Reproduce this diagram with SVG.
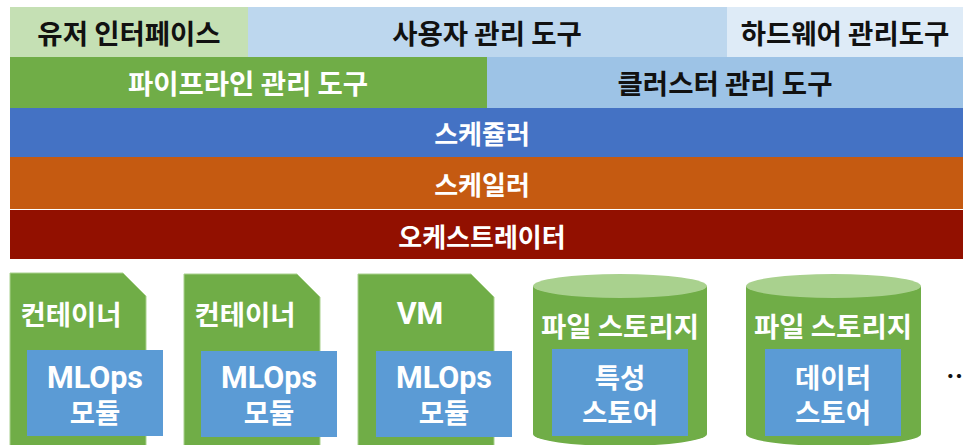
<svg xmlns="http://www.w3.org/2000/svg" width="963" height="445" viewBox="0 0 963 445">
<style>
text{font-family:"Noto Sans CJK KR","Noto Sans",sans-serif;font-weight:bold;text-anchor:middle;dominant-baseline:central;font-size:27.5px}
.band{font-size:26px}
.lat{font-family:Roboto,"Noto Sans CJK KR",sans-serif;font-size:30.5px}
.w{fill:#fff}
.k{fill:#111}
.inner{fill:#5B9BD5}
.box{fill:#70AD47;stroke:#A9D18E;stroke-width:1}
.cyl{fill:#70AD47}
.top{fill:#A9D18E}
</style>
<rect width="963" height="445" fill="#fff"/>
<g id="ui"><rect x="10" y="7" width="238" height="50" fill="#C5E0B4"/><text class="k" x="129" y="32">유저 인터페이스</text></g>
<g id="user-mgmt"><rect x="248" y="7" width="479" height="50" fill="#BDD7EE"/><text class="k" x="487" y="32">사용자 관리 도구</text></g>
<g id="hw-mgmt"><rect x="727" y="7" width="236" height="50" fill="#DEEBF7"/><text class="k" x="845" y="32">하드웨어 관리도구</text></g>
<g id="pipeline"><rect x="10" y="57" width="477" height="51" fill="#70AD47"/><text class="w" x="248" y="82">파이프라인 관리 도구</text></g>
<g id="cluster"><rect x="487" y="57" width="476" height="51" fill="#9DC3E6"/><text class="k" x="725" y="82">클러스터 관리 도구</text></g>
<g id="scheduler"><rect x="10" y="108" width="953" height="49" fill="#4472C4"/><text class="w band" x="482" y="132">스케쥴러</text></g>
<g id="scaler"><rect x="10" y="157" width="953" height="52" fill="#C55A11"/><text class="w band" x="482" y="183">스케일러</text></g>
<g id="orchestrator"><rect x="10" y="210" width="953" height="49" fill="#921000"/><text class="w band" x="482" y="235">오케스트레이터</text></g>
<g id="container1"><path class="box" d="M10 273H123L146 296V450H10Z"/><text class="w" x="71" y="313">컨테이너</text><rect class="inner" x="27" y="350" width="136" height="86"/><text class="w lat" x="95" y="377">MLOps</text><text class="w" x="95" y="411">모듈</text></g>
<g id="container2"><path class="box" d="M184 274H297L320 297V450H184Z"/><text class="w" x="245" y="313">컨테이너</text><rect class="inner" x="201" y="351" width="136" height="86"/><text class="w lat" x="269" y="377">MLOps</text><text class="w" x="269" y="411">모듈</text></g>
<g id="vm"><path class="box" d="M358 274H471L494 297V450H358Z"/><text class="w lat" x="420" y="313">VM</text><rect class="inner" x="376" y="351" width="136" height="86"/><text class="w lat" x="444" y="377">MLOps</text><text class="w" x="444" y="411">모듈</text></g>
<g id="storage1"><path class="cyl" d="M533 286V434A87 12 0 0 0 707 434V286Z"/><ellipse class="top" cx="620" cy="286" rx="87" ry="12"/><text class="w" x="620" y="325">파일 스토리지</text><rect class="inner" x="552" y="349" width="136" height="87"/><text class="w" x="620" y="376">특성</text><text class="w" x="620" y="411">스토어</text></g>
<g id="storage2"><path class="cyl" d="M746 286V434A87.5 12 0 0 0 921 434V286Z"/><ellipse class="top" cx="833.5" cy="286" rx="87.5" ry="12"/><text class="w" x="833" y="325">파일 스토리지</text><rect class="inner" x="765" y="349" width="136" height="87"/><text class="w" x="833" y="376">데이터</text><text class="w" x="833" y="411">스토어</text></g>
<g id="more"><text class="k" x="946" y="374" style="text-anchor:start;font-size:26px">…</text></g>
<g id="connectors"></g>
</svg>
